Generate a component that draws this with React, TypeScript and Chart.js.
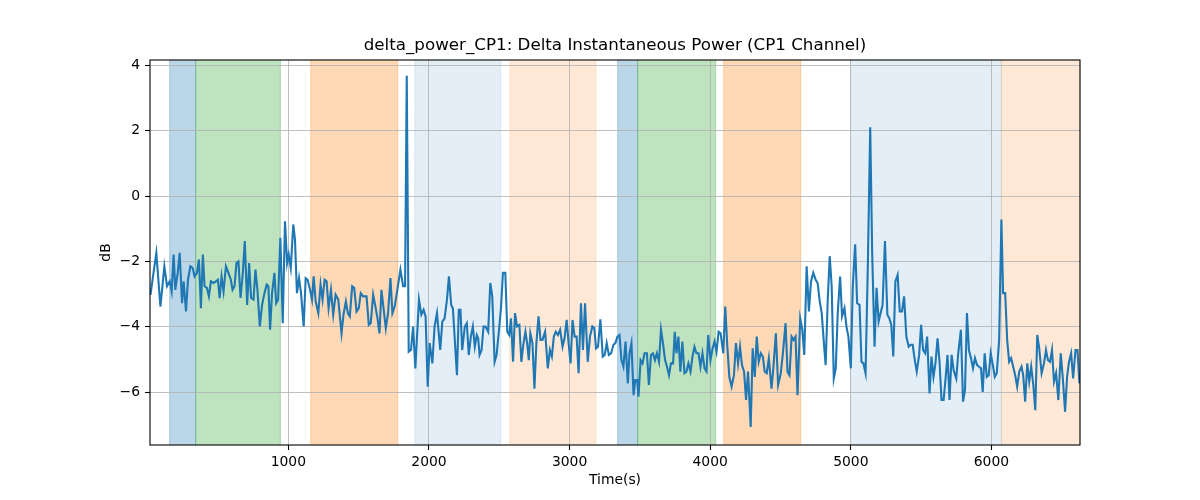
import { useEffect, useRef } from "react";
import { Chart, registerables, Plugin } from "chart.js";

Chart.register(...registerables);

// sample times (s)
const times = [
  19, 61, 90, 118, 137, 156, 170, 184, 196, 213, 227, 244, 255, 272, 286, 303, 319, 333, 350, 364,
  378, 392, 404, 421, 435, 449, 468, 485, 499, 511, 525, 539, 556, 574, 591, 603, 617, 631, 645, 660,
  676, 690, 707, 721, 735, 752, 766, 780, 797, 813, 830, 846, 858, 870, 884, 901, 913, 927, 943, 960,
  976, 991, 1002, 1017, 1035, 1047, 1061, 1076, 1090, 1109, 1123, 1137, 1154, 1168, 1180, 1194, 1213, 1229, 1243, 1258,
  1272, 1286, 1303, 1319, 1336, 1355, 1378, 1392, 1409, 1423, 1437, 1454, 1468, 1485, 1501, 1515, 1532, 1556, 1572, 1586,
  1603, 1619, 1634, 1648, 1662, 1693, 1709, 1726, 1740, 1756, 1775, 1797, 1816, 1830, 1842, 1856, 1872, 1887, 1903, 1929,
  1946, 1962, 1976, 1991, 2005, 2024, 2040, 2057, 2080, 2095, 2111, 2128, 2142, 2158, 2170, 2199,
  2212, 2224, 2236, 2255, 2269, 2283, 2298, 2312, 2326, 2340, 2350, 2360, 2374, 2388, 2402, 2421, 2436, 2450, 2467, 2481,
  2498, 2512, 2526, 2543, 2557, 2571, 2583, 2598, 2612, 2626, 2643, 2657, 2671, 2686, 2698, 2710, 2721, 2736, 2750, 2764,
  2779, 2793, 2807, 2826, 2845, 2860, 2874, 2888, 2902, 2917, 2933, 2950, 2964, 2979, 2993, 3007, 3021, 3036, 3050, 3064,
  3081, 3095, 3110, 3129, 3145, 3162, 3176, 3188, 3202, 3219, 3236, 3250, 3264, 3279, 3295, 3312, 3326, 3340, 3355, 3369,
  3383, 3398, 3414, 3426, 3440, 3455, 3467, 3481, 3490, 3505, 3519, 3533, 3550, 3564, 3579, 3593, 3607, 3621, 3636, 3650,
  3664, 3679, 3693, 3707, 3721, 3736, 3748, 3760, 3774, 3788, 3802, 3817, 3831, 3845, 3860, 3874, 3888, 3902, 3917, 3931,
  3945, 3960, 3974, 3986, 4002, 4017, 4031, 4045, 4060, 4074, 4093, 4107, 4121, 4136, 4152, 4169, 4183, 4198, 4212, 4226,
  4241, 4255, 4269, 4288, 4302, 4317, 4331, 4345, 4360, 4374, 4388, 4402, 4417, 4436, 4450, 4467, 4483,
  4502, 4517, 4536, 4550, 4564, 4579, 4593, 4607, 4621, 4640, 4655, 4669, 4686, 4702, 4717, 4733, 4750, 4764, 4779, 4793,
  4807, 4821, 4836, 4850, 4864, 4879, 4893, 4907, 4924, 4938, 4955, 4969, 4983, 5000, 5014, 5031, 5045, 5062, 5076, 5090,
  5105, 5121, 5138, 5152, 5169, 5183, 5198, 5212, 5226, 5243, 5260, 5274, 5288, 5302, 5317, 5333, 5348, 5364, 5379, 5395,
  5412, 5426, 5440, 5455, 5469, 5486, 5500, 5514, 5529, 5543, 5560, 5574, 5588, 5602, 5617, 5631, 5645, 5660, 5674, 5688,
  5702, 5717, 5731, 5750, 5764, 5783, 5798, 5812, 5826, 5840, 5855, 5869, 5883, 5898, 5912, 5926, 5938, 5952, 5967, 5981,
  5995, 6010, 6024, 6038, 6055, 6071, 6083, 6098, 6112, 6126, 6140, 6155, 6169, 6183, 6198, 6214, 6226, 6240, 6255, 6269,
  6283, 6298, 6312, 6326, 6340, 6357, 6374, 6388, 6402, 6417, 6431, 6445, 6460, 6476, 6493, 6507, 6524, 6538, 6552, 6567,
  6581, 6598, 6612, 6626,
];

// delta instantaneous power, CP1 channel (dB)
const deltaPower = [
  -3.02, -1.74, -3.38, -2.15, -2.76, -2.61, -2.92, -1.79, -2.87, -2.35, -1.74, -3.28, -2.61, -3.53, -2.56, -2.15, -2.2, -2.46, -2.35, -1.94,
  -3.43, -1.79, -2.76, -2.81, -3.07, -2.61, -2.66, -2.61, -2.56, -3.12, -2.46, -2.92, -2.15, -2.35, -2.56, -2.87, -2.76, -2.05, -2.0, -3.12,
  -2.35, -1.38, -3.33, -2.05, -3.12, -3.17, -2.25, -2.87, -3.99, -3.33, -2.97, -2.71, -2.76, -4.09, -2.97, -2.35, -3.28, -3.17, -1.28, -3.89,
  -0.77, -2.05, -1.79, -2.2, -0.87, -1.33, -2.97, -2.51, -2.97, -3.99, -2.51, -2.56, -2.87, -3.17, -2.46, -3.22, -3.58, -2.71, -3.17, -2.56,
  -2.61, -3.43, -2.87, -3.63, -3.02, -3.17, -4.2, -3.63, -3.22, -3.58, -3.68, -2.76, -2.81, -3.53, -3.43, -2.97, -3.07, -3.07, -3.94, -3.89,
  -3.02, -3.38, -3.74, -4.2, -2.87, -4.04, -3.58, -2.51, -3.58, -3.38, -2.87, -2.25, -2.76, -2.76, 3.68, -4.76, -4.71, -3.99, -5.27, -3.17,
  -3.63, -3.48, -3.68, -5.83, -4.5, -5.12, -3.99, -3.58, -4.71, -3.84, -3.74, -3.17, -2.46, -3.33, -3.43, -5.48,
  -3.48, -3.48, -4.71, -3.99, -3.89, -4.86, -4.3, -3.99, -4.61, -4.25, -4.35, -4.86, -4.71, -3.99, -3.99, -4.15, -2.66, -3.07, -5.07, -4.86,
  -4.09, -3.43, -2.35, -2.35, -4.15, -4.25, -3.74, -5.07, -3.58, -3.99, -3.94, -5.07, -4.55, -4.15, -4.5, -5.02, -4.2, -4.5, -5.89, -4.5,
  -3.68, -4.4, -4.4, -4.15, -5.27, -4.71, -4.91, -4.3, -4.15, -4.25, -4.09, -4.61, -4.35, -3.79, -4.5, -5.12, -3.79, -4.3, -4.3, -5.42,
  -3.28, -4.71, -3.28, -5.07, -4.3, -3.99, -4.04, -4.66, -4.61, -3.77, -4.91, -4.86, -4.5, -4.86, -4.81, -4.55, -4.5, -4.3, -4.25, -5.02,
  -5.22, -4.45, -5.73, -4.81, -4.5, -6.09, -5.63, -5.63, -6.14, -5.02, -5.12, -4.81, -4.81, -5.78, -4.86, -4.81, -5.02, -4.81, -5.07, -4.09,
  -4.5, -5.02, -5.22, -5.48, -5.12, -5.12, -4.15, -4.81, -4.3, -5.37, -4.45, -5.42, -5.37, -5.12, -5.37, -4.91, -4.61, -4.81, -4.81, -5.22,
  -4.81, -5.27, -5.37, -4.25, -5.02, -4.66, -4.45, -4.76, -4.15, -4.2, -4.81, -3.38, -4.55, -5.53, -5.83, -5.48, -4.5, -5.12, -4.61, -5.17,
  -5.37, -6.24, -5.37, -7.06, -4.66, -5.53, -4.3, -5.07, -4.81, -4.91, -5.37, -5.42, -4.96, -5.89, -5.22, -4.2, -5.78,
  -5.42, -4.81, -3.89, -5.37, -5.48, -4.3, -4.4, -4.3, -6.09, -3.74, -4.09, -4.86, -2.15, -3.53, -2.61, -2.35, -2.56, -2.66, -3.22, -3.58,
  -4.4, -5.17, -3.17, -1.84, -2.76, -5.58, -5.27, -3.58, -2.46, -3.68, -3.43, -3.99, -4.3, -5.27, -2.76, -1.48, -3.28, -3.33, -5.07, -5.12,
  -5.42, -2.15, 2.1, -1.74, -4.61, -2.81, -3.84, -3.58, -3.33, -1.38, -3.63, -3.74, -3.94, -4.91, -2.61, -2.41, -3.53, -3.53, -3.07, -4.3,
  -4.61, -4.55, -4.55, -5.02, -5.37, -4.86, -3.94, -4.71, -4.81, -4.3, -6.04, -4.91, -5.53, -5.12, -4.35, -5.07, -6.24, -6.24, -5.58, -4.86,
  -6.24, -4.86, -5.32, -5.58, -4.81, -4.09, -6.29, -5.94, -3.58, -4.71, -4.96, -5.27, -4.96, -5.17, -5.22, -5.27, -5.99, -4.81, -5.53, -5.48,
  -4.81, -5.17, -5.53, -5.42, -4.4, -0.72, -2.97, -2.97, -4.4, -5.07, -4.96, -5.22, -5.48, -5.83, -5.37, -5.22, -5.48, -6.29, -5.12, -5.68,
  -5.22, -5.78, -6.55, -4.25, -4.66, -5.42, -5.12, -4.71, -5.02, -5.07, -4.71, -5.68, -5.42, -6.24, -4.81, -5.53, -6.6, -5.53, -5.07, -4.81,
  -5.58, -4.71, -4.71, -5.73,
];

// shaded phases (s)
const phaseStart = [156, 341, 1159, 1899, 2575, 3342, 3484, 4096, 4999, 6071];
const phaseEnd = [341, 943, 1778, 2511, 3187, 3484, 4039, 4644, 6071, 6630];
const phaseKind = ["blue", "green", "orange", "lightblue", "lightorange", "blue", "green", "orange", "lightblue", "lightorange"];

const xTicks = [1000, 2000, 3000, 4000, 5000, 6000];
const yTicks = [-6, -4, -2, 0, 2, 4];

const phaseColors: Record<string, string> = {
  blue: "rgba(31,119,180,0.3)",
  green: "rgba(44,160,44,0.3)",
  orange: "rgba(255,127,14,0.3)",
  lightblue: "rgba(31,119,180,0.12)",
  lightorange: "rgba(255,127,14,0.17)",
};

const FONT = "'DejaVu Sans', sans-serif";

const phasesPlugin: Plugin = {
  id: "phases",
  beforeDraw(chart) {
    const { ctx, chartArea } = chart;
    const x = chart.scales.x;
    ctx.save();
    phaseStart.forEach((s, i) => {
      const x0 = x.getPixelForValue(s);
      const x1 = x.getPixelForValue(phaseEnd[i]);
      const c = phaseColors[phaseKind[i]];
      ctx.fillStyle = c;
      ctx.fillRect(x0, chartArea.top, x1 - x0, chartArea.bottom - chartArea.top);
      // edge lines like axvspan
      ctx.strokeStyle = c;
      ctx.lineWidth = 1;
      ctx.beginPath();
      ctx.moveTo(x0, chartArea.top);
      ctx.lineTo(x0, chartArea.bottom);
      ctx.moveTo(x1, chartArea.top);
      ctx.lineTo(x1, chartArea.bottom);
      ctx.stroke();
    });
    ctx.restore();
  },
  afterDraw(chart) {
    const { ctx, chartArea } = chart;
    ctx.save();
    ctx.strokeStyle = "#000";
    ctx.lineWidth = 1.1;
    ctx.strokeRect(chartArea.left, chartArea.top, chartArea.right - chartArea.left, chartArea.bottom - chartArea.top);
    ctx.fillStyle = "#000";
    ctx.font = `16.7px ${FONT}`;
    ctx.textAlign = "center";
    ctx.textBaseline = "middle";
    ctx.fillText(
      "delta_power_CP1: Delta Instantaneous Power (CP1 Channel)",
      (chartArea.left + chartArea.right) / 2,
      46
    );
    ctx.restore();
  },
};

export default function App() {
  const canvasRef = useRef<HTMLCanvasElement>(null);
  const chartRef = useRef<Chart | null>(null);

  useEffect(() => {
    document.body.style.margin = "0";
    if (!canvasRef.current) return;
    if (chartRef.current) chartRef.current.destroy();

    chartRef.current = new Chart(canvasRef.current, {
      type: "line",
      data: {
        datasets: [
          {
            data: times.map((t, i) => ({ x: t, y: deltaPower[i] })),
            borderColor: "#1f77b4",
            borderWidth: 2.1,
            pointRadius: 0,
            tension: 0,
          },
        ],
      },
      options: {
        animation: false,
        responsive: false,
        layout: { padding: { top: 60, left: 94, right: 120, bottom: 0 } },
        plugins: { legend: { display: false }, tooltip: { enabled: false }, title: { display: false } },
        scales: {
          x: {
            type: "linear",
            min: 16,
            max: 6630,
            afterBuildTicks: (s) => {
              s.ticks = xTicks.map((value) => ({ value }));
            },
            afterFit: (s) => {
              s.height = 55;
            },
            grid: { color: "#b0b0b0", lineWidth: 0.8, tickColor: "#000", tickLength: 5, tickWidth: 1.1 },
            border: { display: false },
            ticks: {
              color: "#000",
              font: { family: FONT, size: 13.9 },
              padding: 4,
              maxRotation: 0,
              callback: (v) => String(v),
            },
            title: {
              display: true,
              text: "Time(s)",
              color: "#000",
              font: { family: FONT, size: 13.9 },
              padding: { top: 0, bottom: 11 },
            },
          },
          y: {
            type: "linear",
            min: -7.615,
            max: 4.16,
            afterBuildTicks: (s) => {
              s.ticks = yTicks.map((value) => ({ value }));
            },
            afterFit: (s) => {
              s.width = 56;
            },
            grid: { color: "#b0b0b0", lineWidth: 0.8, tickColor: "#000", tickLength: 5, tickWidth: 1.1 },
            border: { display: false },
            ticks: {
              color: "#000",
              font: { family: FONT, size: 13.9 },
              padding: 5,
              callback: (v) => {
                const n = Number(v);
                return n < 0 ? "\u2212" + Math.abs(n) : String(n);
              },
            },
            title: {
              display: true,
              text: "dB",
              color: "#000",
              font: { family: FONT, size: 13.9 },
              padding: { top: 4, bottom: 0 },
            },
          },
        },
      },
      plugins: [phasesPlugin],
    });

    return () => {
      if (chartRef.current) {
        chartRef.current.destroy();
        chartRef.current = null;
      }
    };
  }, []);

  return (
    <div style={{ width: 1200, height: 500, position: "relative" }}>
      <canvas ref={canvasRef} width={1200} height={500} />
    </div>
  );
}
